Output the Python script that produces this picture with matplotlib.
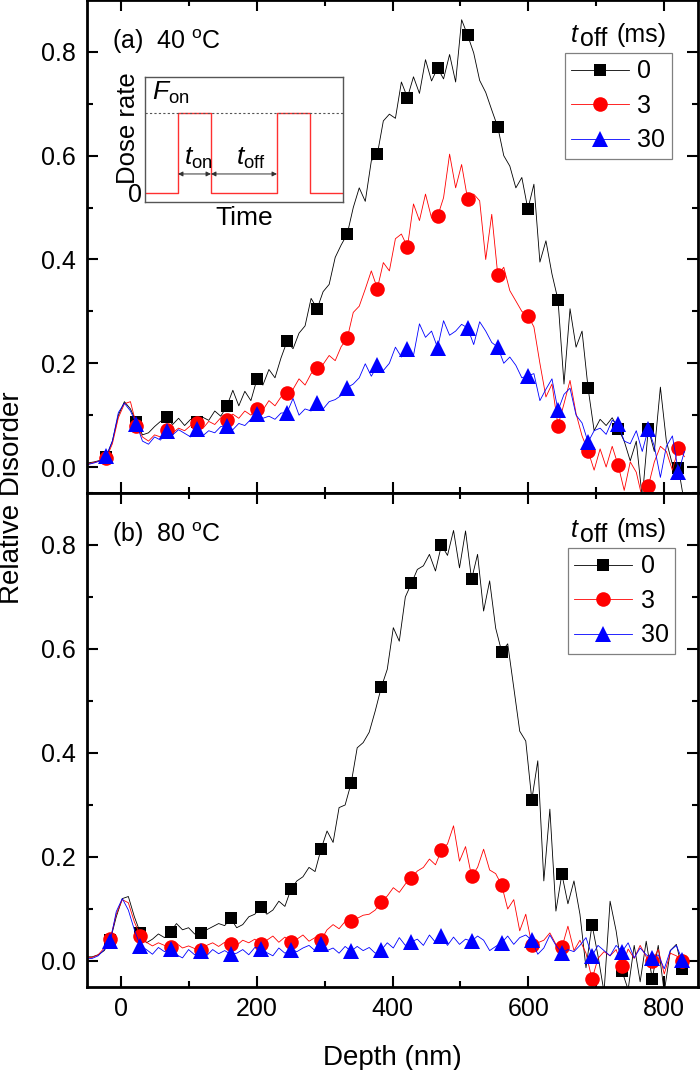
import numpy as np
import matplotlib.pyplot as plt
from matplotlib.ticker import MultipleLocator

plt.rcParams['font.family'] = ['Liberation Sans', 'DejaVu Sans']
plt.rcParams['mathtext.fontset'] = 'custom'
plt.rcParams['mathtext.rm'] = 'Liberation Sans'
plt.rcParams['mathtext.it'] = 'Liberation Sans:italic'
plt.rcParams['mathtext.bf'] = 'Liberation Sans:bold'

# depth channels of the measured spectra (nm), one grid per panel
depth_a = np.round(-48.1 + 8.87 * np.arange(100), 1)
depth_b = np.round(-51.2 + 8.87 * np.arange(100), 1)

# (a) 40 C, relative disorder for t_off = 0, 3, 30 ms
dis_a_0 = [0.008, 0.010, 0.013, 0.020, 0.050, 0.100, 0.126, 0.112, 0.087, 0.062,
           0.066, 0.078, 0.088, 0.096, 0.082, 0.094, 0.080, 0.092, 0.087, 0.096,
           0.090, 0.108, 0.098, 0.117, 0.148, 0.118, 0.146, 0.128, 0.169, 0.158,
           0.188, 0.172, 0.210, 0.242, 0.228, 0.258, 0.272, 0.325, 0.305, 0.338,
           0.352, 0.404, 0.428, 0.449, 0.500, 0.538, 0.512, 0.590, 0.603, 0.667,
           0.680, 0.672, 0.742, 0.712, 0.752, 0.720, 0.785, 0.744, 0.769, 0.748,
           0.795, 0.742, 0.862, 0.832, 0.798, 0.745, 0.722, 0.688, 0.655, 0.600,
           0.580, 0.538, 0.558, 0.497, 0.545, 0.395, 0.436, 0.372, 0.322, 0.160,
           0.305, 0.231, 0.262, 0.152, 0.070, 0.092, 0.080, 0.095, 0.074, 0.050,
           0.012, 0.050, -0.060, 0.074, 0.030, 0.154, 0.050, 0.005, -0.002, -0.070]
dis_a_3 = [0.006, 0.009, 0.012, 0.017, 0.045, 0.095, 0.122, 0.126, 0.080, 0.058,
           0.050, 0.062, 0.058, 0.071, 0.066, 0.075, 0.070, 0.080, 0.085, 0.074,
           0.088, 0.082, 0.095, 0.090, 0.102, 0.094, 0.108, 0.100, 0.112, 0.110,
           0.128, 0.118, 0.135, 0.142, 0.150, 0.170, 0.158, 0.180, 0.190, 0.198,
           0.215, 0.205, 0.232, 0.248, 0.298, 0.310, 0.343, 0.378, 0.344, 0.394,
           0.378, 0.440, 0.449, 0.424, 0.507, 0.475, 0.526, 0.480, 0.483, 0.519,
           0.603, 0.538, 0.583, 0.516, 0.526, 0.513, 0.400, 0.487, 0.370, 0.385,
           0.340, 0.320, 0.300, 0.292, 0.270, 0.200, 0.135, 0.160, 0.080, 0.122,
           0.167, 0.103, 0.060, 0.031, -0.006, 0.035, 0.000, 0.040, 0.003, -0.045,
           0.010, -0.010, -0.060, -0.037, 0.010, 0.040, 0.030, -0.006, 0.037, 0.020]
dis_a_30 = [0.005, 0.008, 0.012, 0.022, 0.050, 0.105, 0.123, 0.108, 0.083, 0.050,
            0.044, 0.058, 0.052, 0.069, 0.062, 0.072, 0.065, 0.058, 0.074, 0.060,
            0.070, 0.066, 0.078, 0.080, 0.072, 0.084, 0.080, 0.092, 0.103, 0.094,
            0.098, 0.092, 0.104, 0.105, 0.132, 0.100, 0.112, 0.108, 0.124, 0.112,
            0.126, 0.130, 0.138, 0.153, 0.160, 0.172, 0.199, 0.175, 0.196, 0.186,
            0.200, 0.231, 0.212, 0.228, 0.215, 0.276, 0.250, 0.262, 0.230, 0.282,
            0.254, 0.262, 0.275, 0.268, 0.236, 0.280, 0.262, 0.240, 0.231, 0.200,
            0.212, 0.196, 0.172, 0.176, 0.180, 0.128, 0.150, 0.170, 0.109, 0.140,
            0.152, 0.100, 0.085, 0.048, 0.070, 0.075, 0.063, 0.090, 0.083, 0.050,
            0.045, 0.070, 0.030, 0.074, 0.040, -0.020, 0.040, 0.060, -0.010, 0.030]

# (b) 80 C
dis_b_0 = [0.008, 0.008, 0.012, 0.020, 0.040, 0.085, 0.120, 0.124, 0.085, 0.054,
           0.035, 0.042, 0.052, 0.045, 0.056, 0.072, 0.060, 0.064, 0.052, 0.054,
           0.060, 0.066, 0.072, 0.068, 0.082, 0.064, 0.070, 0.085, 0.090, 0.104,
           0.090, 0.098, 0.115, 0.105, 0.138, 0.154, 0.162, 0.180, 0.172, 0.215,
           0.250, 0.228, 0.295, 0.300, 0.342, 0.410, 0.420, 0.440, 0.481, 0.526,
           0.561, 0.641, 0.615, 0.700, 0.726, 0.753, 0.760, 0.782, 0.750, 0.800,
           0.780, 0.828, 0.756, 0.827, 0.734, 0.782, 0.673, 0.731, 0.640, 0.595,
           0.610, 0.526, 0.442, 0.423, 0.310, 0.385, 0.154, 0.292, 0.096, 0.167,
           0.110, 0.154, 0.090, -0.013, 0.070, 0.010, -0.060, 0.115, 0.058, -0.020,
           -0.055, 0.030, -0.040, 0.038, -0.035, 0.030, -0.060, 0.020, 0.032, -0.016]
dis_b_3 = [0.006, 0.007, 0.012, 0.025, 0.043, 0.090, 0.118, 0.112, 0.075, 0.049,
           0.036, 0.029, 0.035, 0.030, 0.027, 0.034, 0.025, 0.029, 0.024, 0.021,
           0.030, 0.035, 0.028, 0.036, 0.032, 0.030, 0.040, 0.035, 0.042, 0.033,
           0.040, 0.048, 0.036, 0.046, 0.037, 0.042, 0.050, 0.038, 0.045, 0.040,
           0.060, 0.070, 0.062, 0.076, 0.076, 0.082, 0.088, 0.090, 0.098, 0.114,
           0.125, 0.141, 0.132, 0.148, 0.160, 0.173, 0.180, 0.196, 0.185, 0.213,
           0.225, 0.260, 0.192, 0.220, 0.163, 0.180, 0.215, 0.175, 0.168, 0.146,
           0.100, 0.118, 0.058, 0.090, 0.031, 0.035, 0.040, 0.054, 0.032, 0.026,
           0.067, 0.020, 0.040, 0.015, -0.035, 0.005, 0.018, 0.010, 0.022, -0.010,
           0.023, 0.005, 0.030, 0.008, 0.000, 0.022, -0.025, 0.015, 0.010, 0.000]
dis_b_30 = [0.004, 0.005, 0.010, 0.022, 0.038, 0.095, 0.120, 0.098, 0.060, 0.029,
            0.022, 0.013, 0.026, 0.018, 0.024, 0.012, 0.006, 0.022, 0.012, 0.019,
            0.010, 0.022, 0.014, 0.020, 0.013, 0.015, 0.022, 0.012, 0.026, 0.024,
            0.016, 0.010, 0.025, 0.015, 0.022, 0.018, 0.025, 0.030, 0.020, 0.033,
            0.020, 0.025, 0.015, 0.028, 0.019, 0.028, 0.020, 0.026, 0.015, 0.021,
            0.035, 0.025, 0.045, 0.030, 0.037, 0.042, 0.030, 0.050, 0.036, 0.048,
            0.030, 0.046, 0.032, 0.042, 0.038, 0.048, 0.040, 0.020, 0.028, 0.035,
            0.048, 0.032, 0.045, 0.050, 0.040, 0.013, 0.025, 0.050, 0.030, 0.016,
            0.022, 0.018, 0.030, 0.045, 0.010, 0.030, 0.020, 0.010, 0.030, 0.018,
            0.035, 0.006, 0.025, 0.012, 0.005, 0.012, -0.015, 0.020, 0.030, 0.002]

toff_labels = ['0', '3', '30']
panel_labels = [r'(a)  40 $^{\mathrm{o}}$C', r'(b)  80 $^{\mathrm{o}}$C']

# inset: pulsed beam scheme
pulse_time = [0, 1, 1, 2, 2, 4, 4, 5, 5, 6]
pulse_rate = [0, 0, 1, 1, 0, 0, 1, 1, 0, 0]

styles = [('black', 's', 8.5), ('#ff0000', 'o', 10.5), ('#0000ff', '^', 11)]


def fx(px):
    return px / 700


def fy(py):
    return 1 - py / 1070


fig = plt.figure(figsize=(7, 10.7), dpi=100)
ax1 = fig.add_axes([fx(87), fy(493), 611 / 700, 493 / 1070])
ax2 = fig.add_axes([fx(87), fy(987), 611 / 700, 494 / 1070], sharex=ax1)

panels = [(ax1, depth_a, [dis_a_0, dis_a_3, dis_a_30], (3, 5), 0, 565),
          (ax2, depth_b, [dis_b_0, dis_b_3, dis_b_30], (4, 5), 495, 568)]

for k, (ax, depth, curves, mev, dy, legx) in enumerate(panels):
    for vals, lab, (col, mk, ms) in zip(curves, toff_labels, styles):
        ax.plot(depth, vals, color=col, lw=0.6, marker=mk, ms=ms, mec=col, mfc=col, mew=0,
                markevery=mev, label=lab)
    ax.set_xlim(-50, 850)
    ax.set_ylim(-0.05, 0.9)
    ax.xaxis.set_major_locator(MultipleLocator(200))
    ax.xaxis.set_minor_locator(MultipleLocator(100))
    ax.yaxis.set_major_locator(MultipleLocator(0.2))
    ax.yaxis.set_minor_locator(MultipleLocator(0.1))
    ax.tick_params(which='both', direction='in', top=True, right=True, width=1.5, labelsize=18)
    ax.tick_params(which='major', length=8)
    ax.tick_params(which='minor', length=4.5)
    ax.tick_params(axis='x', pad=7)
    ax.tick_params(axis='y', pad=8)
    for sp in ax.spines.values():
        sp.set_linewidth(2)
    ax.text(0.041, 0.901, panel_labels[k], transform=ax.transAxes, fontsize=18, va='baseline')

    leg = ax.legend(loc='upper left', bbox_to_anchor=(fx(legx), fy(53 + dy)),
                    bbox_transform=fig.transFigure, borderaxespad=0, borderpad=0.25,
                    handlelength=2.3, handletextpad=0.35, labelspacing=0.42,
                    fontsize=18, fancybox=False, framealpha=1)
    leg.get_frame().set_edgecolor('#808080')
    leg.get_frame().set_linewidth(0.9)

    # legend title drawn above the box
    fig.text(fx(571), fy(42 + dy), 't', style='italic', fontsize=18, va='baseline')
    fig.text(fx(580), fy(46.5 + dy), 'off', fontsize=18, va='baseline')
    fig.text(fx(617), fy(42 + dy), '(ms)', fontsize=18, va='baseline')

ax1.tick_params(labelbottom=False)

fig.text(fx(392.5), fy(1065), 'Depth (nm)', fontsize=20, ha='center', va='baseline')
fig.text(fx(12), fy(498), 'Relative Disorder', fontsize=20, rotation=90, ha='center', va='center')

# inset
axin = fig.add_axes([fx(145), fy(202), 198 / 700, 125 / 1070])
axin.plot(pulse_time, pulse_rate, color='#ff3030', lw=1.0)
axin.axhline(max(pulse_rate), ls=(0, (2, 2)), color='#555555', lw=0.8)
axin.set_xlim(0, 6)
axin.set_ylim(-0.1125, 1.45)
axin.set_xticks([])
axin.set_yticks([0])
axin.tick_params(length=0, pad=2, labelsize=18)
for sp in axin.spines.values():
    sp.set_color('#555555')
    sp.set_linewidth(1.0)
axin.set_xlabel('Time', fontsize=19, labelpad=3)
axin.text(-0.086, 0.588, 'Dose rate', rotation=90, transform=axin.transAxes,
          ha='center', va='center', fontsize=18.5)
axin.text(0.035, 0.816, r'$F_{\mathrm{on}}$', transform=axin.transAxes, fontsize=19, va='baseline')

arr_y = 0.238
arrow_kw = dict(arrowstyle='<|-|>', color='#333333', lw=0.7, shrinkA=0, shrinkB=0, mutation_scale=7)
axin.annotate('', xy=(pulse_time[3], arr_y), xytext=(pulse_time[1], arr_y), arrowprops=arrow_kw)
axin.annotate('', xy=(pulse_time[5], arr_y), xytext=(pulse_time[3], arr_y), arrowprops=arrow_kw)
axin.text(0.197, 0.296, r'$t_{\mathrm{on}}$', transform=axin.transAxes, fontsize=19, va='baseline')
axin.text(0.46, 0.296, r'$t_{\mathrm{off}}$', transform=axin.transAxes, fontsize=19, va='baseline')

fig.savefig('out.png', dpi=100)
